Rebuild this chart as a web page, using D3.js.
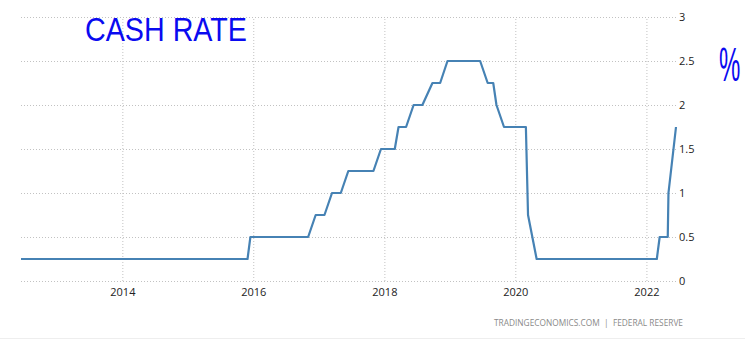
<!DOCTYPE html>
<html>
<head>
<meta charset="utf-8">
<script src="https://cdn.jsdelivr.net/npm/d3@7"></script>
<style>
  html, body { margin: 0; padding: 0; background: #fff; }
  #chart { width: 745px; height: 349px; }
</style>
</head>
<body>
<div id="chart"></div>
<script>
// Fed funds rate (upper bound), dates where the line bends
const dates = [
    '2012-06-15', '2015-11-30', '2015-12-16', '2016-11-02', '2016-12-14',
    '2017-02-01', '2017-03-15', '2017-05-03', '2017-06-14', '2017-11-01',
    '2017-12-13', '2018-02-28', '2018-03-21', '2018-05-02', '2018-06-13',
    '2018-08-01', '2018-09-26', '2018-11-08', '2018-12-19', '2019-06-19',
    '2019-07-31', '2019-08-31', '2019-09-18', '2019-10-30', '2020-02-29',
    '2020-03-12', '2020-04-29', '2022-02-28', '2022-03-16', '2022-04-30',
    '2022-05-04', '2022-06-15'
];
const rates = [
    0.25, 0.25, 0.5, 0.5, 0.75,
    0.75, 1.0, 1.0, 1.25, 1.25,
    1.5, 1.5, 1.75, 1.75, 2.0,
    2.0, 2.25, 2.25, 2.5, 2.5,
    2.25, 2.25, 2.0, 1.75, 1.75,
    0.75, 0.25, 0.25, 0.5, 0.5,
    1.0, 1.75
];
const xTickYears = [2014, 2016, 2018, 2020, 2022];
const yTicks = [0, 0.5, 1, 1.5, 2, 2.5, 3];
const title = 'CASH RATE';
const unit = '%';
const source = 'TRADINGECONOMICS.COM  |  FEDERAL RESERVE';

const width = 745;
const height = 349;
const margin = { top: 17, right: 69, bottom: 68, left: 21 };

const parseDate = d3.timeParse('%Y-%m-%d');
const series = dates.map((d, i) => ({ date: parseDate(d), value: rates[i] }));

const svg = d3.select('#chart')
    .append('svg')
    .attr('width', width)
    .attr('height', height);

const x = d3.scaleTime()
    .domain(d3.extent(series, d => d.date))
    .range([margin.left, width - margin.right]);

const y = d3.scaleLinear()
    .domain([0, 3])
    .range([height - margin.bottom, margin.top]);

const fontFamily = '"Open Sans", "Liberation Sans", sans-serif';

// Horizontal dotted gridlines + right labels
const yAxis = d3.axisRight(y)
    .tickValues(yTicks)
    .tickFormat(d3.format('~g'))
    .tickSize(-(width - margin.left - margin.right))
    .tickPadding(3);

const yG = svg.append('g')
    .attr('transform', `translate(${width - margin.right},0)`)
    .call(yAxis);
yG.select('.domain').remove();
yG.selectAll('line')
    .attr('stroke', '#c2c2c2')
    .attr('stroke-dasharray', '1,2');
yG.selectAll('text')
    .attr('fill', '#222')
    .attr('font-size', '11px')
    .attr('font-family', fontFamily);

// Vertical dotted gridlines + bottom labels
const xAxis = d3.axisBottom(x)
    .tickValues(xTickYears.map(yr => new Date(yr, 0, 1)))
    .tickFormat(d3.timeFormat('%Y'))
    .tickSize(-(height - margin.top - margin.bottom))
    .tickPadding(7);

const xG = svg.append('g')
    .attr('transform', `translate(0,${height - margin.bottom})`)
    .call(xAxis);
xG.select('.domain').remove();
xG.selectAll('line')
    .attr('stroke', '#c2c2c2')
    .attr('stroke-dasharray', '1,2');
xG.selectAll('text')
    .attr('fill', '#222')
    .attr('font-size', '11px')
    .attr('font-family', fontFamily);

// Rate line
const line = d3.line()
    .x(d => x(d.date))
    .y(d => y(d.value));

svg.append('path')
    .datum(series)
    .attr('fill', 'none')
    .attr('stroke', '#4682b4')
    .attr('stroke-width', 2.2)
    .attr('stroke-linejoin', 'round')
    .attr('d', line);

// Source line
svg.append('text')
    .attr('x', 683)
    .attr('y', 326)
    .attr('text-anchor', 'end')
    .attr('fill', '#8a8a8a')
    .attr('font-size', '9px')
    .attr('font-family', fontFamily)
    .attr('textLength', 189)
    .attr('lengthAdjust', 'spacingAndGlyphs')
    .style('white-space', 'pre')
    .text(source);

svg.append('line')
    .attr('x1', 0)
    .attr('x2', width)
    .attr('y1', 338.5)
    .attr('y2', 338.5)
    .attr('stroke', '#eeeeee');

// Hand-written annotations
svg.append('text')
    .attr('x', 85)
    .attr('y', 41)
    .attr('fill', '#0a0af0')
    .attr('font-size', '34px')
    .attr('font-family', '"Liberation Sans", sans-serif')
    .attr('textLength', 162)
    .attr('lengthAdjust', 'spacingAndGlyphs')
    .text(title);

// narrow, tall percent sign: squeeze it horizontally
svg.append('text')
    .attr('transform', 'translate(719,81) scale(0.5,1)')
    .attr('fill', '#0a0af0')
    .attr('font-size', '48px')
    .attr('font-family', '"Liberation Sans", sans-serif')
    .text(unit);
</script>
</body>
</html>
